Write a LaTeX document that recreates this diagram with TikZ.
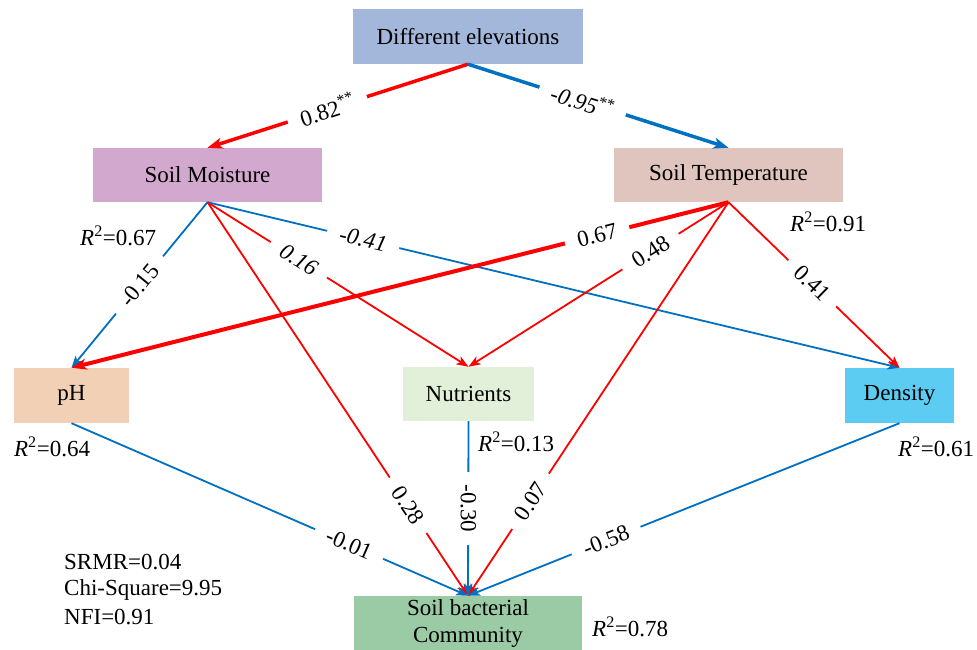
\documentclass[tikz,border=0pt]{standalone}
\usepackage{fontspec}
\setmainfont{Liberation Serif}
\usetikzlibrary{arrows.meta}
\definecolor{cDE}{RGB}{163,183,218}
\definecolor{cSM}{RGB}{210,168,206}
\definecolor{cST}{RGB}{224,196,190}
\definecolor{cPH}{RGB}{242,208,182}
\definecolor{cNU}{RGB}{226,239,217}
\definecolor{cDEN}{RGB}{93,204,242}
\definecolor{cSBC}{RGB}{155,203,165}
\definecolor{pred}{RGB}{255,0,0}
\definecolor{pblue}{RGB}{0,112,192}
\tikzset{
  box/.style={rectangle, inner sep=0pt, align=center, font=\fontsize{23}{27}\selectfont},
  thinred/.style={draw=pred, line width=1.8pt, -{Stealth[length=12pt,width=9pt,inset=3pt]}},
  thinblue/.style={draw=pblue, line width=1.8pt, -{Stealth[length=12pt,width=9pt,inset=3pt]}},
  thickred/.style={draw=pred, line width=3.5pt, -{Stealth[length=15pt,width=11pt,inset=4pt]}},
  thickblue/.style={draw=pblue, line width=3.5pt, -{Stealth[length=15pt,width=11pt,inset=4pt]}},
  lbl/.style={fill=white, inner xsep=13pt, inner ysep=2pt, sloped, font=\fontsize{23}{27}\selectfont},
  rsq/.style={anchor=west, inner sep=0pt, font=\fontsize{23}{27}\selectfont},
}
\newcommand{\rsqv}[1]{\textit{R}\textsuperscript{2}=#1}
\begin{document}
\begin{tikzpicture}[x=1pt,y=-1pt]
\useasboundingbox (0,0) rectangle (977,650);
\node[box, fill=cDE, minimum width=230pt, minimum height=55pt] (de) at (468,36.5) {Different elevations};
\node[box, fill=cSM, minimum width=229pt, minimum height=54pt] (sm) at (207.5,175) {Soil Moisture};
\node[box, fill=cST, minimum width=229pt, minimum height=54pt] (st) at (728.5,175) {Soil Temperature};
\node[box, fill=cPH, minimum width=115pt, minimum height=55pt] (ph) at (71.5,395.5) {pH};
\node[box, fill=cNU, minimum width=131pt, minimum height=54pt] (nu) at (468.5,394) {Nutrients};
\node[box, fill=cDEN, minimum width=109pt, minimum height=55pt] (den) at (899.5,395.5) {Density};
\node[box, fill=cSBC, minimum width=228pt, minimum height=54pt, font=\fontsize{23}{27}\selectfont] (sbc) at (468,623) {Soil bacterial\\Community};

\draw[thickred] (de.south) -- node[lbl, pos=0.54] {0.82\textsuperscript{**}} (sm.north);
\draw[thickblue] (de.south) -- node[lbl, pos=0.44] {\textit{-0.95}\textsuperscript{**}} (st.north);

\draw[thinblue] (sm.south) -- node[lbl, pos=0.5] {-0.15} (ph.north);
\draw[thinred] (sm.south) -- node[lbl, pos=0.35] {\textit{0.16}} (nu.north);
\draw[thinblue] (sm.south) -- node[lbl, pos=0.225] {\textit{-0.41}} (den.north);
\draw[thinred] (sm.south) -- node[lbl, pos=0.77] {0.28} (sbc.north);

\draw[thickred, line width=4pt] (st.south) -- node[lbl, pos=0.2] {0.67} (ph.north);
\draw[thinred] (st.south) -- node[lbl, pos=0.3] {0.48} (nu.north);
\draw[thinred] (st.south) -- node[lbl, pos=0.49] {0.41} (den.north);
\draw[thinred] (st.south) -- node[lbl, pos=0.76] {0.07} (sbc.north);

\draw[thinblue] (ph.south) -- node[lbl, pos=0.7] {-0.01} (sbc.north);
\draw[thinblue] (nu.south) -- node[fill=white, inner xsep=13pt, inner ysep=2pt, rotate=-90, pos=0.5, font=\fontsize{23}{27}\selectfont] {-0.30} (sbc.north);
\draw[thinblue] (den.south) -- node[lbl, pos=0.68] {-0.58} (sbc.north);

\node[rsq] (r1) at (80,236) {\rsqv{0.67}};
\node[rsq] (r2) at (790,222) {\rsqv{0.91}};
\node[rsq] (r3) at (14,447) {\rsqv{0.64}};
\node[rsq] (r4) at (478,442) {\rsqv{0.13}};
\node[rsq] (r5) at (898,447) {\rsqv{0.61}};
\node[rsq] (r6) at (592,627) {\rsqv{0.78}};

\node[rsq] (s1) at (64,562) {SRMR=0.04};
\node[rsq] (s2) at (64,589.5) {Chi-Square=9.95};
\node[rsq] (s3) at (64,617) {NFI=0.91};
\end{tikzpicture}
\end{document}
